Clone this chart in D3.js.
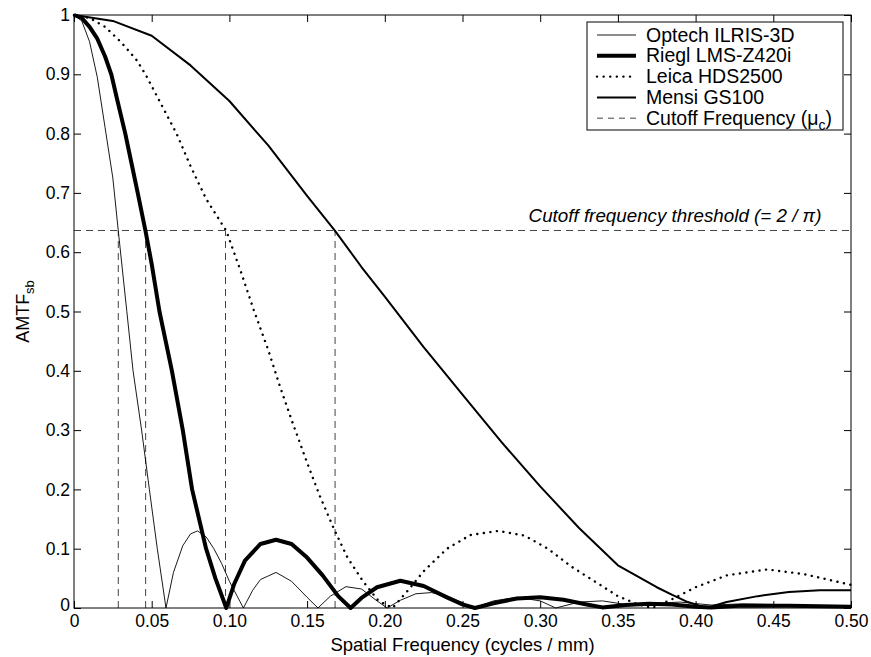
<!DOCTYPE html>
<html>
<head>
<meta charset="utf-8">
<script src="https://cdn.jsdelivr.net/npm/d3@7"></script>
<style>
  body { margin: 0; background: #fff; }
  text { font-family: "Liberation Sans", Arial, Helvetica, sans-serif; fill: #000; }
</style>
</head>
<body>
<div id="chart"></div>
<script>
// values
var optechX = [0, 0.005, 0.01, 0.015, 0.02, 0.025, 0.0285, 0.034, 0.038, 0.0435, 0.0485, 0.0536, 0.0592, 0.064, 0.07, 0.075, 0.0795, 0.085, 0.09, 0.095, 0.1, 0.105, 0.109, 0.115, 0.12, 0.13, 0.14, 0.15, 0.157, 0.165, 0.175, 0.185, 0.195, 0.2015, 0.21, 0.22, 0.23, 0.24, 0.25, 0.257, 0.27, 0.285, 0.3, 0.31, 0.325, 0.34, 0.36, 0.375, 0.39, 0.41, 0.43, 0.45, 0.47, 0.5];
var optechY = [1, 0.99, 0.955, 0.895, 0.81, 0.725, 0.636, 0.5, 0.4, 0.3, 0.2, 0.1, 0.0, 0.06, 0.105, 0.125, 0.13, 0.12, 0.1, 0.075, 0.045, 0.02, 0.0, 0.03, 0.048, 0.06, 0.045, 0.018, 0.0, 0.02, 0.036, 0.032, 0.012, 0.0, 0.013, 0.024, 0.026, 0.02, 0.009, 0.0, 0.012, 0.018, 0.012, 0.0, 0.01, 0.012, 0.004, 0.008, 0.01, 0.005, 0.007, 0.006, 0.004, 0.003];

var rieglX = [0, 0.005, 0.01, 0.015, 0.02, 0.024, 0.028, 0.033, 0.037, 0.041, 0.046, 0.05, 0.055, 0.059, 0.063, 0.07, 0.076, 0.085, 0.091, 0.098, 0.103, 0.11, 0.12, 0.13, 0.14, 0.15, 0.16, 0.17, 0.178, 0.185, 0.195, 0.21, 0.225, 0.24, 0.25, 0.258, 0.27, 0.285, 0.3, 0.315, 0.33, 0.34, 0.355, 0.37, 0.385, 0.4, 0.41, 0.43, 0.46, 0.5];
var rieglY = [1, 0.995, 0.98, 0.96, 0.93, 0.9, 0.855, 0.8, 0.75, 0.7, 0.636, 0.58, 0.5, 0.45, 0.4, 0.3, 0.2, 0.1, 0.05, 0, 0.04, 0.08, 0.108, 0.115, 0.108, 0.085, 0.055, 0.02, 0, 0.017, 0.035, 0.046, 0.037, 0.018, 0.006, 0, 0.008, 0.016, 0.018, 0.014, 0.006, 0.001, 0.005, 0.007, 0.006, 0.002, 0.001, 0.004, 0.004, 0.002];

var leicaX = [0, 0.01, 0.02, 0.03, 0.04, 0.046, 0.055, 0.066, 0.075, 0.085, 0.098, 0.107, 0.116, 0.125, 0.133, 0.141, 0.15, 0.158, 0.167, 0.176, 0.186, 0.196, 0.205, 0.215, 0.225, 0.24, 0.255, 0.273, 0.29, 0.305, 0.32, 0.335, 0.35, 0.362, 0.372, 0.385, 0.4, 0.42, 0.446, 0.47, 0.5];
var leicaY = [1, 0.995, 0.98, 0.955, 0.925, 0.9, 0.855, 0.8, 0.745, 0.69, 0.636, 0.57, 0.5, 0.435, 0.37, 0.31, 0.245, 0.19, 0.135, 0.085, 0.045, 0.012, 0, 0.03, 0.062, 0.1, 0.123, 0.13, 0.122, 0.1, 0.07, 0.045, 0.02, 0.007, 0, 0.015, 0.035, 0.055, 0.065, 0.057, 0.039];

var mensiX = [0, 0.025, 0.05, 0.075, 0.1, 0.125, 0.15, 0.168, 0.185, 0.2, 0.225, 0.25, 0.275, 0.3, 0.325, 0.35, 0.375, 0.385, 0.395, 0.407, 0.42, 0.44, 0.46, 0.48, 0.5];
var mensiY = [1, 0.99, 0.965, 0.915, 0.855, 0.78, 0.695, 0.636, 0.575, 0.525, 0.44, 0.36, 0.28, 0.205, 0.135, 0.072, 0.035, 0.022, 0.01, 0, 0.01, 0.02, 0.027, 0.03, 0.03];

var cutoffs = [0.0285, 0.0461, 0.0975, 0.168];
var threshold = 2 / Math.PI;

var xTicks = [0, 0.05, 0.1, 0.15, 0.2, 0.25, 0.3, 0.35, 0.4, 0.45, 0.5];
var yTicks = [0, 0.1, 0.2, 0.3, 0.4, 0.5, 0.6, 0.7, 0.8, 0.9, 1];

var legendNames = ["Optech ILRIS-3D", "Riegl LMS-Z420i", "Leica HDS2500", "Mensi GS100", "Cutoff Frequency (\u03bc"];

var width = 871, height = 657;
var margin = {top: 15, right: 20, bottom: 49, left: 74};
var w = width - margin.left - margin.right;
var h = height - margin.top - margin.bottom;

var svg = d3.select("#chart").append("svg")
    .attr("width", width)
    .attr("height", height);

var g = svg.append("g")
    .attr("transform", "translate(" + margin.left + "," + margin.top + ")");

var x = d3.scaleLinear().domain([0, 0.5]).range([0, w]);
var y = d3.scaleLinear().domain([0, 1]).range([h, 0]);

var fmtX = function(d) { return d === 0 ? "0" : d3.format(".2f")(d); };
var fmtY = function(d) { return d === 0 || d === 1 ? String(d) : d3.format(".1f")(d); };

// axes, ticks pointing inward like matlab
var xb = g.append("g").attr("transform", "translate(0," + h + ")")
    .call(d3.axisBottom(x).tickValues(xTicks).tickSize(-7).tickPadding(7).tickFormat(fmtX));
var xt = g.append("g")
    .call(d3.axisTop(x).tickValues(xTicks).tickSize(-7).tickFormat(""));
var yl = g.append("g")
    .call(d3.axisLeft(y).tickValues(yTicks).tickSize(-7).tickPadding(4).tickFormat(fmtY));
var yr = g.append("g").attr("transform", "translate(" + w + ",0)")
    .call(d3.axisRight(y).tickValues(yTicks).tickSize(-7).tickFormat(""));

[xb, xt, yl, yr].forEach(function(a) {
  a.select(".domain").remove();
  a.selectAll("line").attr("stroke", "#000");
  a.selectAll("text").style("font-size", "17.5px").attr("fill", "#000")
   .style("font-family", "'Liberation Sans', Arial, sans-serif");
});
yl.selectAll("text").filter(function(d) { return d === 0; }).attr("dy", "0.15em");

// cutoff guides
g.append("line")
    .attr("x1", 0).attr("x2", w)
    .attr("y1", y(threshold)).attr("y2", y(threshold))
    .attr("stroke", "#444").attr("stroke-width", 1).attr("stroke-dasharray", "7,5");

g.selectAll(".cut").data(cutoffs).enter().append("line")
    .attr("class", "cut")
    .attr("x1", function(d) { return x(d); }).attr("x2", function(d) { return x(d); })
    .attr("y1", y(0)).attr("y2", y(threshold))
    .attr("stroke", "#444").attr("stroke-width", 1).attr("stroke-dasharray", "7,5");

g.append("text")
    .attr("x", x(0.481)).attr("y", y(threshold) - 8)
    .attr("text-anchor", "end")
    .style("font-size", "18.8px").style("font-style", "italic")
    .text("Cutoff frequency threshold (= 2 / \u03c0)");

var line = d3.line()
    .x(function(d) { return x(d[0]); })
    .y(function(d) { return y(d[1]); });

function pairs(xs, ys) { return xs.map(function(v, i) { return [v, ys[i]]; }); }

var series = [
  {data: pairs(optechX, optechY), sw: 0.9, dash: null, cap: "butt"},
  {data: pairs(rieglX, rieglY), sw: 4, dash: null, cap: "butt"},
  {data: pairs(leicaX, leicaY), sw: 2.4, dash: "0.1,6.5", cap: "round"},
  {data: pairs(mensiX, mensiY), sw: 2, dash: null, cap: "butt"}
];

g.selectAll(".curve").data(series).enter().append("path")
    .attr("class", "curve")
    .attr("d", function(d) { return line(d.data); })
    .attr("fill", "none")
    .attr("stroke", "#000")
    .attr("stroke-width", function(d) { return d.sw; })
    .attr("stroke-linecap", function(d) { return d.cap; })
    .attr("stroke-linejoin", "round")
    .attr("stroke-dasharray", function(d) { return d.dash; });

// box
g.append("rect")
    .attr("width", w).attr("height", h)
    .attr("fill", "none").attr("stroke", "#000").attr("stroke-width", 1);

// axis titles
svg.append("text")
    .attr("x", margin.left + w / 2).attr("y", 651)
    .attr("text-anchor", "middle").style("font-size", "18.5px")
    .text("Spatial Frequency (cycles / mm)");

var yt = svg.append("text")
    .attr("transform", "translate(29," + (margin.top + h / 2) + ") rotate(-90)")
    .attr("text-anchor", "middle").style("font-size", "18px");
yt.append("tspan").text("AMTF");
yt.append("tspan").attr("dy", 5).style("font-size", "13px").text("sb");

// legend
var lx = 587, ly = 22, lw = 256, lh = 108, rowH = 20.8;
var leg = svg.append("g");
leg.append("rect")
    .attr("x", lx).attr("y", ly).attr("width", lw).attr("height", lh)
    .attr("fill", "#fff").attr("stroke", "#000").attr("stroke-width", 1);

var legStyles = [
  {sw: 0.9, dash: null, cap: "butt"},
  {sw: 4, dash: null, cap: "butt"},
  {sw: 2.4, dash: "0.1,6.5", cap: "round"},
  {sw: 2, dash: null, cap: "butt"},
  {sw: 1, dash: "6,5", cap: "butt"}
];

legendNames.forEach(function(name, i) {
  var cy = ly + 13 + i * rowH;
  leg.append("line")
      .attr("x1", 597).attr("x2", 636).attr("y1", cy).attr("y2", cy)
      .attr("stroke", i === 4 ? "#444" : "#000")
      .attr("stroke-width", legStyles[i].sw)
      .attr("stroke-linecap", legStyles[i].cap)
      .attr("stroke-dasharray", legStyles[i].dash);
  var t = leg.append("text")
      .attr("x", 646).attr("y", cy + 6.5)
      .style("font-size", "19.5px")
      .text(name);
  if (i === 4) {
    t.append("tspan").attr("dy", 5).style("font-size", "14px").text("c");
    t.append("tspan").attr("dy", -5).text(")");
  }
});
</script>
</body>
</html>
